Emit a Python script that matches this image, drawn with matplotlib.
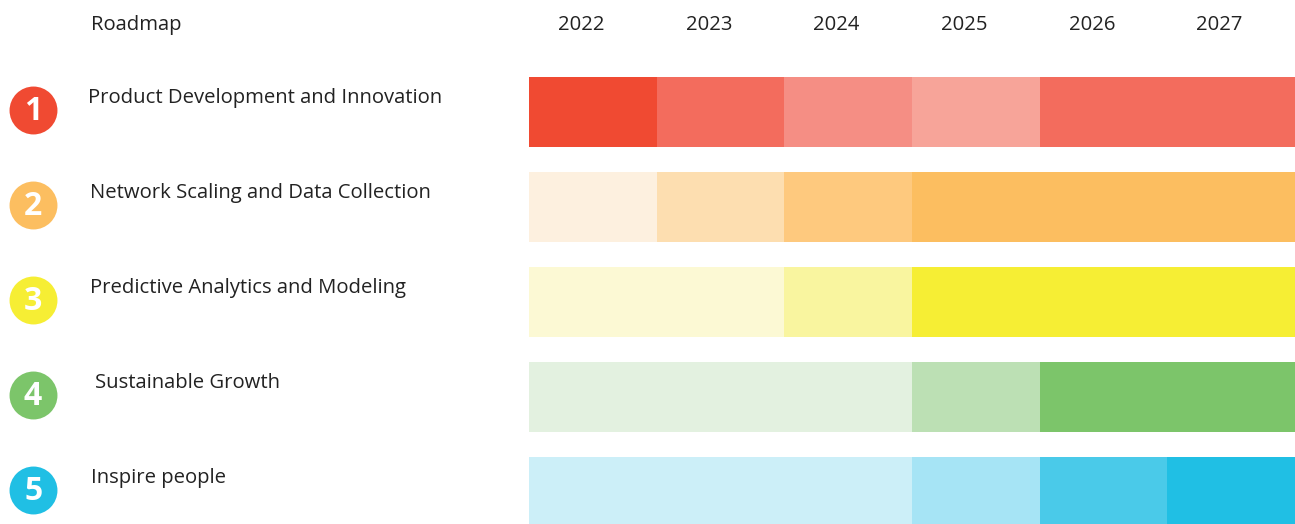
import matplotlib.pyplot as plt

years = ['2022', '2023', '2024', '2025', '2026', '2027']
goals = ['Product Development and Innovation',
         'Network Scaling and Data Collection',
         'Predictive Analytics and Modeling',
         'Sustainable Growth',
         'Inspire people']
# intensity level (1 = lightest .. 4 = strongest) per goal and year
level_1 = [4, 3, 2, 1, 3, 3]
level_2 = [1, 2, 3, 4, 4, 4]
level_3 = [1, 1, 2, 4, 4, 4]
level_4 = [1, 1, 1, 2, 4, 4]
level_5 = [1, 1, 1, 2, 3, 4]
levels = [level_1, level_2, level_3, level_4, level_5]

palettes = [
    ['#F7A499', '#F58E84', '#F36C5D', '#F04A32'],
    ['#FDF0DF', '#FDDEB0', '#FEC97E', '#FCBE60'],
    ['#FCF9D4', '#F9F59F', '#F7F16A', '#F6EE34'],
    ['#E3F1E0', '#BCE0B4', '#9DD38F', '#7CC56A'],
    ['#CCEFF8', '#A6E4F5', '#4ACAE9', '#20BFE4'],
]

plt.rcParams['font.family'] = ['Open Sans', 'DejaVu Sans']

fig = plt.figure(figsize=(12.95, 5.24), dpi=100)
ax = fig.add_axes([0, 0, 1, 1])
ax.set_xlim(-4.143, 6)
ax.set_ylim(4.705, -0.8105)
ax.axis('off')

bar_h = 70 / 95
label_dx = [0.0, 0.016, 0.016, 0.055, 0.024]
for r, (lv, pal) in enumerate(zip(levels, palettes)):
    for c, v in enumerate(lv):
        ax.barh(r, 1, left=c, height=bar_h, align='edge',
                color=pal[v - 1], linewidth=0)
    # numbered circle
    ax.scatter(-3.884, r + 0.347, s=1190, color=pal[-1], zorder=3, linewidths=0)
    ax.text(-3.884, r + 0.36, str(r + 1), color='white', fontsize=23,
            fontweight='bold', ha='center', va='center', zorder=4)
    ax.text(-3.455 + label_dx[r], r + 0.225, goals[r],
            fontsize=14.6, color='#222222', ha='left', va='center')

for c, y in enumerate(years):
    ax.text(c + 0.41, -0.55, y, fontsize=14.6, color='#222222',
            ha='center', va='center')
ax.text(-3.430, -0.55, 'Roadmap', fontsize=14.6, color='#222222',
        ha='left', va='center')

fig.savefig('out.png', dpi=100)
